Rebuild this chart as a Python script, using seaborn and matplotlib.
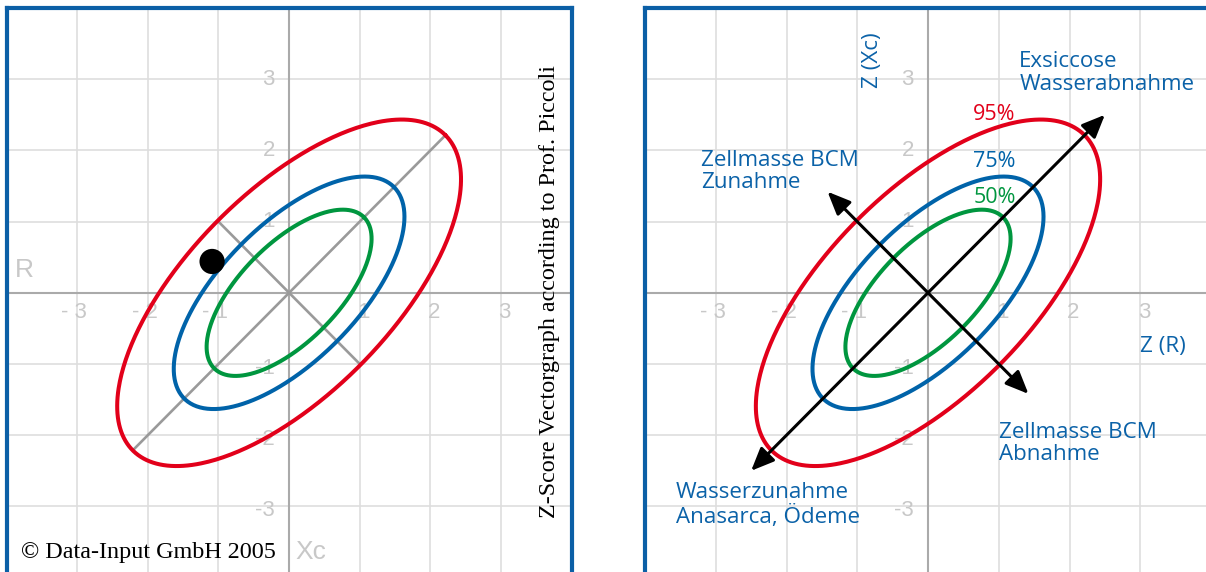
import numpy as np
import pandas as pd
import seaborn as sns
import matplotlib.pyplot as plt

# confidence ellipses (semi axes, rotated 45 deg)
levels = ['50%', '75%', '95%']
semi_major = [1.5, 2.1, 3.13]
semi_minor = [0.69, 0.96, 1.43]
ring_colors = ['#00963f', '#0063a9', '#e2001a']

x_ticks = [-3, -2, -1, 1, 2, 3]
x_tick_labels = ['- 3', '- 2', '- 1', '1', '2', '3']
y_ticks = [-3, -2, -1, 1, 2, 3]
y_tick_labels = ['-3', '-2', '-1', '1', '2', '3']

measured_x = [-1.09]
measured_y = [0.44]

axis_major_end = 2.21   # grey axes of the 95% ellipse
axis_minor_end = 1.01
arrow_major_end = 2.5   # black arrows on the right panel
arrow_minor_end = 1.42

frame_blue = '#0b5fa6'
label_blue = '#0b62a8'
tick_grey = '#c8c8c8'

sns.set_style('white')
plt.rcParams['font.family'] = ['Liberation Sans', 'DejaVu Sans']

fig = plt.figure(figsize=(12.06, 5.72), dpi=100)
ax1 = fig.add_axes([6.5 / 1206, 1 - 577.6 / 572, 565.2 / 1206, 569.6 / 572])
ax2 = fig.add_axes([645 / 1206, 1 - 577.6 / 572, 566 / 1206, 569.6 / 572])

# ellipse outlines as a long table
t = np.linspace(0, 2 * np.pi, 400)
rows = []
for lev, a, b in zip(levels, semi_major, semi_minor):
    u = a * np.cos(t)
    v = b * np.sin(t)
    rows.append(pd.DataFrame({'x': (u - v) / np.sqrt(2), 'y': (u + v) / np.sqrt(2), 'level': lev}))
ellipses = pd.concat(rows, ignore_index=True)
palette = dict(zip(levels, ring_colors))


def base_panel(ax):
    ax.set_xlim(-4, 4)
    ax.set_ylim(-4, 4)
    ax.set_xticks(range(-4, 5))
    ax.set_yticks(range(-4, 5))
    ax.tick_params(length=0, labelbottom=False, labelleft=False)
    ax.grid(True, color='#dedede', lw=1.2)
    ax.set_axisbelow(True)
    ax.axhline(0, color='#aaaaaa', lw=1.5, zorder=1)
    ax.axvline(0, color='#aaaaaa', lw=1.5, zorder=1)
    for side, sp in ax.spines.items():
        sp.set_color(frame_blue)
        sp.set_linewidth(3)
    ax.spines['bottom'].set_visible(False)
    for tk, lab in zip(x_ticks, x_tick_labels):
        ax.text(tk + 0.14, -0.28, lab, ha='right', va='center', fontsize=16, color=tick_grey, zorder=1)
    for tk, lab in zip(y_ticks, y_tick_labels):
        ax.text(-0.2, tk if tk > 0 else tk - 0.06, lab, ha='right', va='center',
                fontsize=16, color=tick_grey, zorder=1)
    sns.lineplot(data=ellipses, x='x', y='y', hue='level', palette=palette, sort=False,
                 estimator=None, lw=2.9, legend=False, ax=ax, zorder=3)
    ax.set_xlabel('')
    ax.set_ylabel('')


base_panel(ax1)
base_panel(ax2)

# left panel: grey axes of the ellipse and the measured point
ax1.plot([-axis_major_end, axis_major_end], [-axis_major_end, axis_major_end], color='#9a9a9a', lw=1.9, zorder=2)
ax1.plot([-axis_minor_end, axis_minor_end], [axis_minor_end, -axis_minor_end], color='#9a9a9a', lw=1.9, zorder=2)
sns.scatterplot(x=measured_x, y=measured_y, color='black', s=330, edgecolor='none', ax=ax1, zorder=5)
ax1.text(-3.75, 0.32, 'R', ha='center', va='center', fontsize=19, color=tick_grey)
ax1.text(0.31, -3.64, 'Xc', ha='center', va='center', fontsize=19, color=tick_grey)
serif = ['Liberation Serif', 'DejaVu Serif']
ax1.text(3.68, 0.02, 'Z-Score Vectorgraph according to Prof. Piccoli', rotation=90, ha='center',
         va='center', fontsize=17.4, family=serif, color='black')
ax1.text(-3.8, -3.72, '\u00a9 Data-Input GmbH 2005', ha='left', va='baseline', fontsize=17.4,
         family=serif, color='black')

# right panel: arrows and labels
arrow_style = dict(arrowstyle='<|-|>,head_length=0.7,head_width=0.3', lw=2.2, color='black',
                   shrinkA=0, shrinkB=0, mutation_scale=20)
ax2.annotate('', xy=(arrow_major_end, arrow_major_end), xytext=(-arrow_major_end, -arrow_major_end),
             arrowprops=arrow_style, zorder=4)
ax2.annotate('', xy=(arrow_minor_end, -arrow_minor_end), xytext=(-arrow_minor_end, arrow_minor_end),
             arrowprops=arrow_style, zorder=4)

sans = ['Open Sans', 'DejaVu Sans']
fs = 16.1
ax2.text(0.64, 2.43, '95%', color=ring_colors[2], fontsize=15.5, family=sans, va='baseline')
ax2.text(0.64, 1.76, '75%', color=ring_colors[1], fontsize=15.5, family=sans, va='baseline')
ax2.text(0.64, 1.26, '50%', color=ring_colors[0], fontsize=15.5, family=sans, va='baseline')
# va='baseline' on two-line text aligns the last line
ax2.text(-3.21, 1.47, 'Zellmasse BCM\nZunahme', color=label_blue, fontsize=fs, family=sans,
         va='baseline', linespacing=1.1)
ax2.text(1.29, 2.85, 'Exsiccose\nWasserabnahme', color=label_blue, fontsize=fs, family=sans,
         va='baseline', linespacing=1.1)
ax2.text(1.0, -2.35, 'Zellmasse BCM\nAbnahme', color=label_blue, fontsize=fs, family=sans,
         va='baseline', linespacing=1.1)
ax2.text(-3.56, -3.23, 'Wasserzunahme\nAnasarca, \u00d6deme', color=label_blue, fontsize=fs,
         family=sans, va='baseline', linespacing=1.1)
ax2.text(2.99, -0.83, 'Z (R)', color=label_blue, fontsize=fs, family=sans, va='baseline')
ax2.text(-0.78, 3.27, 'Z (Xc)', color=label_blue, fontsize=fs, family=sans, rotation=90,
         ha='center', va='center')

fig.savefig('out.png', dpi=100)
